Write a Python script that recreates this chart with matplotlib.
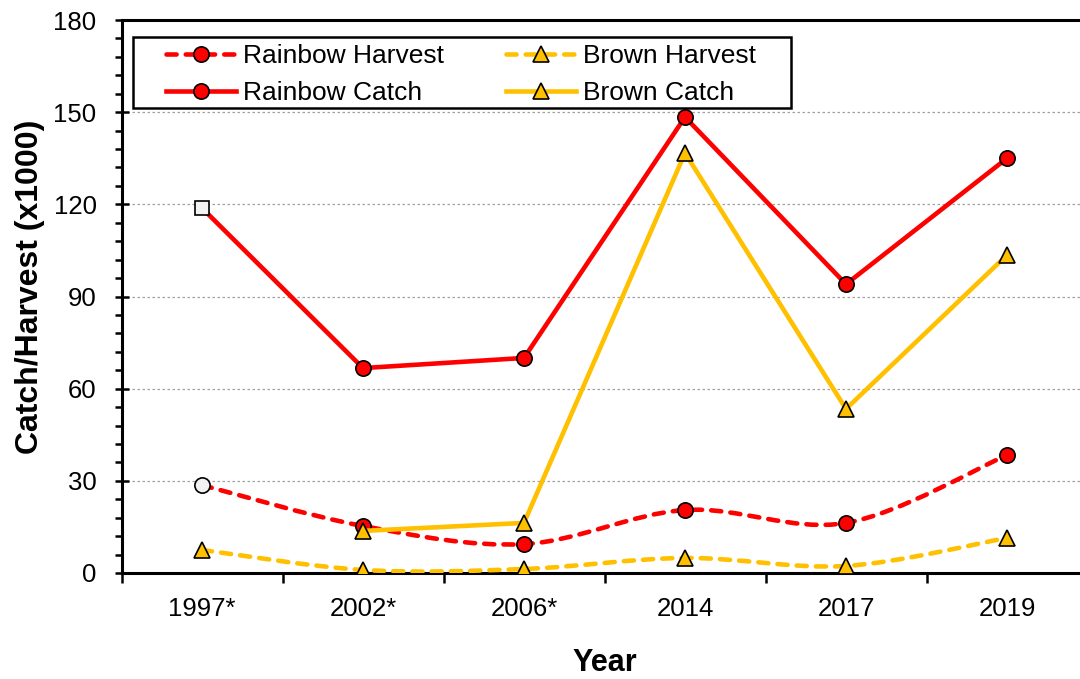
import numpy as np
import matplotlib
matplotlib.use("Agg")
import matplotlib.pyplot as plt
from matplotlib.path import Path
from matplotlib.patches import PathPatch, Rectangle
from matplotlib.lines import Line2D
from matplotlib.ticker import MultipleLocator

plt.rcParams['font.family'] = ['Liberation Sans', 'DejaVu Sans']

years = ["1997*", "2002*", "2006*", "2014", "2017", "2019"]
rainbow_harvest = [28.6, 15.3, 9.4, 20.5, 16.3, 38.4]
brown_harvest = [7.5, 1.0, 1.3, 4.9, 2.3, 11.4]
rainbow_catch = [118.8, 66.7, 70.0, 148.4, 94.0, 135.0]
brown_catch = [np.nan, 13.7, 16.3, 136.7, 53.4, 103.5]

RED = "#FF0000"
GOLD = "#FFC000"
PALE = "#F2F2F2"
LW = 3.3
DASH = (0, (2.2, 2.0))
MS_C = 11
MS_T = 11.5


def smooth_path(xs, ys):
    # smoothed line like the spreadsheet one: cubic bezier through each point
    pts = np.column_stack([xs, ys]).astype(float)
    n = len(pts)
    verts = [pts[0]]
    codes = [Path.MOVETO]
    for i in range(n - 1):
        p0 = pts[max(i - 1, 0)]
        p1 = pts[i]
        p2 = pts[i + 1]
        p3 = pts[min(i + 2, n - 1)]
        verts += [p1 + (p2 - p0) / 6, p2 - (p3 - p1) / 6, p2]
        codes += [Path.CURVE4] * 3
    return Path(verts, codes)


x = np.arange(len(years))

fig = plt.figure(figsize=(10.8, 6.79), dpi=100)
ax = fig.add_axes([121.5 / 1080, 106 / 679, 966 / 1080, 553 / 679])

# harvest series (dashed, smoothed)
for vals, col in [(rainbow_harvest, RED), (brown_harvest, GOLD)]:
    patch = PathPatch(smooth_path(x, vals), facecolor="none", edgecolor=col,
                      lw=LW, linestyle=DASH, capstyle="round", zorder=3)
    ax.add_patch(patch)

ax.plot(x[1:], rainbow_harvest[1:], "o", ms=MS_C, mfc=RED, mec="black", mew=1.2, zorder=4)
ax.plot(x[:1], rainbow_harvest[:1], "o", ms=MS_C, mfc=PALE, mec="black", mew=1.2, zorder=4)
ax.plot(x, brown_harvest, "^", ms=MS_T, mfc=GOLD, mec="black", mew=1.2, zorder=4)

# catch series (solid)
ax.plot(x, rainbow_catch, "-", color=RED, lw=LW, zorder=5)
ax.plot(x[1:], rainbow_catch[1:], "o", ms=MS_C, mfc=RED, mec="black", mew=1.2, zorder=6)
ax.plot(x[:1], rainbow_catch[:1], "s", ms=10, mfc=PALE, mec="black", mew=1.2, zorder=6)
ax.plot(x, brown_catch, "-", color=GOLD, lw=LW, zorder=7)
ax.plot(x, brown_catch, "^", ms=MS_T, mfc=GOLD, mec="black", mew=1.2, zorder=8)

ax.set_xlim(-0.5, len(years) - 0.5)
ax.set_ylim(0, 180)
ax.set_xticks(x)
ax.set_xticklabels(years, fontsize=18.5)
ax.set_xticks(np.arange(len(years) + 1) - 0.5, minor=True)
ax.tick_params(axis="x", which="major", length=0, pad=17)
ax.tick_params(axis="x", which="minor", direction="out", length=7, width=1.8)

ax.yaxis.set_major_locator(MultipleLocator(30))
ax.yaxis.set_minor_locator(MultipleLocator(6))
ax.tick_params(axis="y", which="major", direction="inout", length=10, width=1.8,
               labelsize=18.5, pad=13)
ax.tick_params(axis="y", which="minor", direction="out", length=5, width=1.8)

ax.grid(axis="y", which="major", color="#A0A0A0", linestyle=(0, (2, 2)), lw=0.9, zorder=0)

for side in ["left", "bottom", "top"]:
    ax.spines[side].set_linewidth(2.2)
ax.spines["right"].set_visible(False)

ax.set_ylabel("Catch/Harvest (x1000)", fontsize=23, fontweight="bold")
ax.yaxis.set_label_coords(-0.079, 0.517)
ax.set_xlabel("Year", fontsize=22, fontweight="bold")
ax.xaxis.set_label_coords(0.5, -0.136)

# legend box drawn on its own so the side padding can be wider than the top
frame = Rectangle((0.0119, 0.8409), 0.681, 0.1284, transform=ax.transAxes,
                  facecolor="white", edgecolor="black", lw=1.8, zorder=9)
ax.add_patch(frame)

handles = [
    Line2D([], [], color=RED, lw=LW, linestyle=DASH, dash_capstyle="round",
           marker="o", ms=MS_C, mfc=RED, mec="black", mew=1.2),
    Line2D([], [], color=RED, lw=LW, marker="o", ms=MS_C, mfc=RED, mec="black", mew=1.2),
    Line2D([], [], color=GOLD, lw=LW, linestyle=DASH, dash_capstyle="round",
           marker="^", ms=MS_T, mfc=GOLD, mec="black", mew=1.2),
    Line2D([], [], color=GOLD, lw=LW, marker="^", ms=MS_T, mfc=GOLD, mec="black", mew=1.2),
]
labels = ["Rainbow Harvest", "Rainbow Catch", "Brown Harvest", "Brown Catch"]
leg = ax.legend(handles, labels, ncol=2, loc="upper left", bbox_to_anchor=(0.046, 0.957),
                fontsize=19, frameon=False,
                handlelength=2.65, handletextpad=0.27, columnspacing=2.35,
                labelspacing=0.51, borderpad=0, borderaxespad=0)
leg.set_zorder(10)

fig.savefig("out.png", dpi=100)
